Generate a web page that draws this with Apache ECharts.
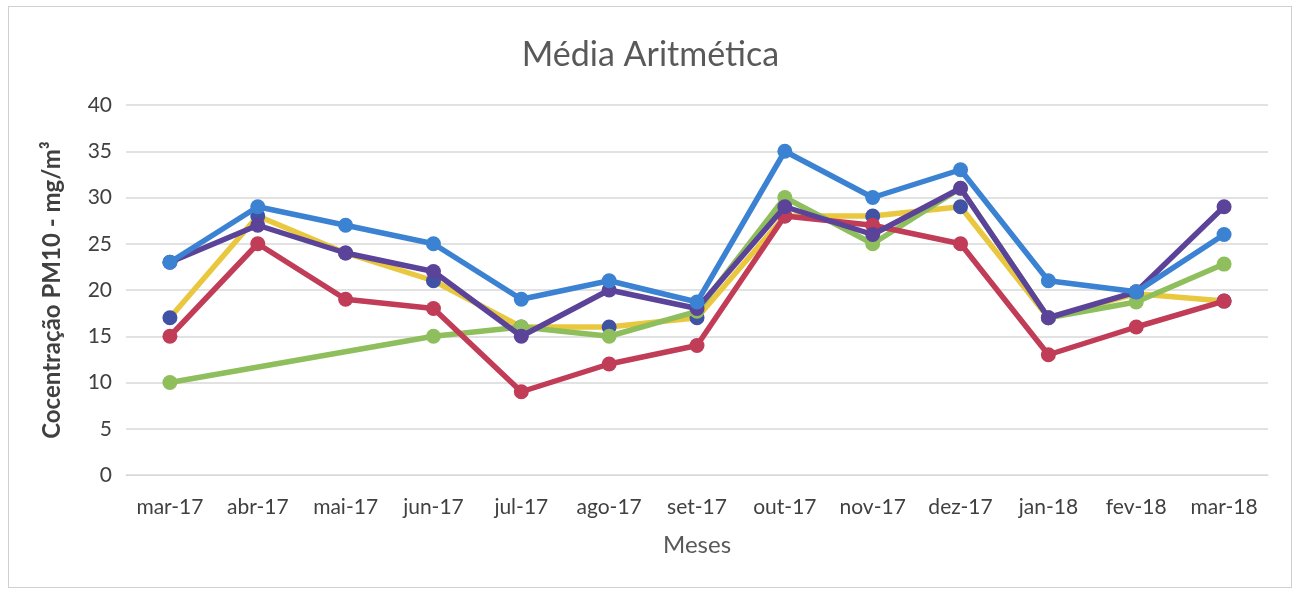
<!DOCTYPE html>
<html>
<head>
<meta charset="utf-8">
<script src="https://cdn.jsdelivr.net/npm/echarts@6/dist/echarts.min.js"></script>
<style>
html,body{margin:0;padding:0;background:#fff;}
#frame{position:absolute;left:8px;top:6px;width:1284px;height:582px;border:1px solid #d0d0d0;box-sizing:border-box;}
#chart{position:absolute;left:0;top:0;width:1301px;height:592px;}
</style>
</head>
<body>
<div id="frame"></div>
<div id="chart"></div>
<script>
const months = ['mar-17','abr-17','mai-17','jun-17','jul-17','ago-17','set-17','out-17','nov-17','dez-17','jan-18','fev-18','mar-18'];
const yTicks = [0,5,10,15,20,25,30,35,40];
const serieAmarela = [17,28,24,21,16,16,17,28,28,29,17,19.6,18.8];
const serieVerde   = [10,null,null,15,16,15,17.7,30,25,31,17,18.7,22.8];
const serieVermelha= [15,25,19,18,9,12,14,28,27,25,13,16,18.8];
const serieRoxa    = [23,27,24,22,15,20,18,29,26,31,17,19.8,29];
const serieAzul    = [23,29,27,25,19,21,18.7,35,30,33,21,19.8,26];

const FONT = 'Lato, "Open Sans", sans-serif';
function mk(name, data, lineColor, markColor, extra){
  return Object.assign({
    name, type:'line', data,
    symbol:'circle', symbolSize:15,
    lineStyle:{color:lineColor, width:5.5},
    itemStyle:{color:markColor},
    emphasis:{disabled:true},
    animation:false
  }, extra||{});
}
const chart = echarts.init(document.getElementById('chart'));
chart.setOption({
  backgroundColor:'transparent',
  title:{text:'Média Aritmética', left:'center', top:33,
    textStyle:{fontFamily:FONT, fontSize:34, fontWeight:'normal', color:'#595959'}},
  grid:{left:126, right:33, top:105, bottom:117},
  xAxis:{type:'category', data:months, boundaryGap:true,
    name:'Meses', nameLocation:'middle', nameGap:58,
    nameTextStyle:{fontFamily:FONT, fontSize:24, color:'#595959'},
    axisLine:{lineStyle:{color:'#d9d9d9'}}, axisTick:{show:false},
    axisLabel:{fontFamily:FONT, fontSize:21, color:'#404040', margin:22, interval:0}},
  yAxis:{type:'value', min:yTicks[0], max:yTicks[yTicks.length-1], interval:5,
    name:'Cocentração PM10 - mg/m³', nameLocation:'middle', nameGap:62,
    nameTextStyle:{fontFamily:FONT, fontSize:24, fontWeight:'bold', color:'#404040'},
    axisLine:{show:false}, axisTick:{show:false},
    axisLabel:{fontFamily:FONT, fontSize:21, color:'#404040', margin:14},
    splitLine:{lineStyle:{color:'#d9d9d9', width:1.5}}},
  series:[
    mk('Série 1', serieAmarela, '#e9c83f', '#3f52a3', {z:2}),
    mk('Série 2', serieVerde, '#8fbf5c', '#8fbf5c', {connectNulls:true, z:3}),
    mk('Série 3', serieVermelha, '#c03c57', '#c03c57', {z:4}),
    mk('Série 4', serieRoxa, '#5b4399', '#5b4399', {z:5}),
    mk('Série 5', serieAzul, '#3b82d3', '#3b82d3', {z:6})
  ]
});
</script>
</body>
</html>
